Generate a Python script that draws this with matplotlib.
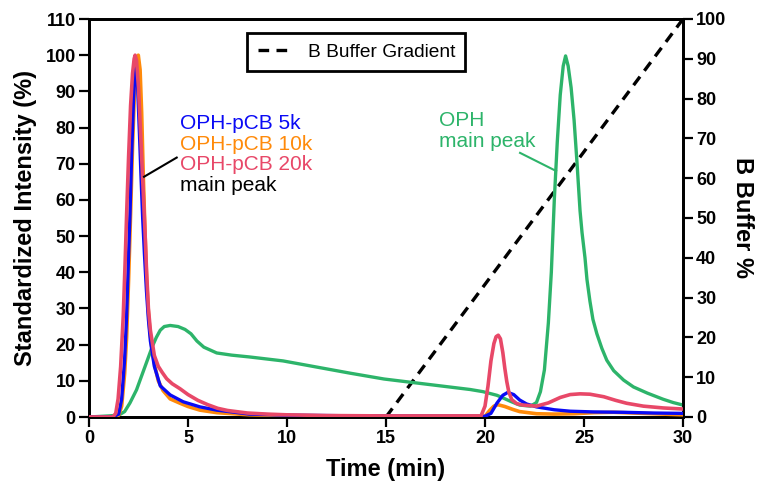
import matplotlib
matplotlib.use("Agg")
import matplotlib.pyplot as plt

plt.rcParams['font.family'] = ['Liberation Sans', 'DejaVu Sans']

# ---------------- data ----------------
t_5k = [0, 1.2, 1.5, 1.65, 1.8, 1.9, 2.0, 2.07, 2.15, 2.25, 2.32, 2.38, 2.45, 2.55, 2.63, 2.71,
        2.8, 2.9, 3.0, 3.1, 3.3, 3.6, 4.1, 4.76, 5.6, 6.45, 8.1, 10, 14, 20, 20.3, 20.6, 20.9,
        21.15, 21.45, 21.75, 22.1, 22.6, 23.5, 24.3, 25.5, 27, 28.5, 30]
v_5k = [0, 0, 0.8, 5, 16, 28, 45, 56, 72, 88, 95, 97, 92, 78, 66, 55,
        45, 35, 27, 21, 14, 8.6, 6.1, 4.2, 2.8, 1.9, 0.8, 0.5, 0.3, 0.2, 1, 3.8, 6,
        6.8, 6.2, 4.7, 3.6, 2.8, 2.0, 1.6, 1.4, 1.3, 1.1, 1.0]

t_10k = [0, 1.2, 1.5, 1.65, 1.8, 1.9, 2.0, 2.1, 2.2, 2.3, 2.4, 2.49, 2.58, 2.66, 2.74, 2.83,
         2.91, 3.0, 3.08, 3.2, 3.33, 3.5, 3.74, 4.1, 4.6, 5.0, 5.6, 6.45, 8.1, 10, 15, 20, 20.25,
         20.45, 20.65, 21.0, 21.4, 21.75, 22.6, 23.5, 24.5, 25.5, 26.5, 27.5, 28.5, 30]
v_10k = [0, 0, 0.5, 3, 12, 22, 38, 56, 75, 90, 98, 100, 96, 84, 67, 51,
         38, 29, 23.5, 18, 14, 10, 7.3, 5.0, 3.8, 2.9, 1.9, 1.2, 0.6, 0.4, 0.2, 0.2, 1.9,
         3.0, 3.4, 2.9, 2.1, 1.5, 0.9, 0.8, 0.9, 1.2, 1.3, 1.1, 0.9, 0.6]

t_20k = [0, 1.2, 1.35, 1.47, 1.6, 1.73, 1.82, 1.9, 2.0, 2.1, 2.2, 2.28, 2.33, 2.4, 2.5, 2.6,
         2.7, 2.83, 2.91, 3.0, 3.1, 3.3, 3.5, 3.7, 3.92, 4.2, 4.6, 5.0, 5.5, 6.0, 6.5, 7.0, 8.0,
         9.0, 10, 12, 15, 18, 19.8, 20.0, 20.15, 20.3, 20.45, 20.56, 20.67, 20.78, 20.9, 21.0,
         21.1, 21.2, 21.35, 21.6, 21.9, 22.6, 23.2, 23.8, 24.3, 24.8, 25.3, 26.0, 26.6, 27.15,
         28.0, 29.0, 30]
v_20k = [0, 0, 1, 5, 14, 28, 42, 56, 72, 86, 95, 99, 100, 98.5, 91, 79,
         67, 51, 40, 30, 24, 17, 14, 12.3, 10.6, 9.2, 7.8, 6.2, 4.6, 3.4, 2.4, 1.8, 1.1,
         0.8, 0.6, 0.4, 0.3, 0.3, 0.3, 3.0, 8.5, 15.5, 20.3, 22.2, 22.6, 21.6, 17.8, 13.5,
         9.8, 7.0, 4.8, 3.7, 3.3, 3.0, 3.9, 5.4, 6.2, 6.4, 6.3, 5.6, 4.6, 3.8,
         3.0, 2.5, 2.2]

t_oph = [0, 1.0, 1.5, 1.8, 2.07, 2.4, 2.7, 3.0, 3.2, 3.4, 3.6, 3.8, 4.1, 4.5, 4.85, 5.15,
         5.45, 5.8, 6.45, 7.2, 8.1, 9.8, 11.5, 13.2, 14.9, 16.55, 18.2, 19.25, 19.9, 20.6, 20.9,
         21.3, 21.75, 22.3, 22.6, 22.8, 23.0, 23.2, 23.35, 23.5, 23.65, 23.8, 23.95, 24.07, 24.2,
         24.35, 24.5, 24.65, 24.8, 24.9, 25.05, 25.15, 25.3, 25.45, 25.65, 25.9, 26.15, 26.5,
         27.0, 27.5, 28.2, 29.0, 29.5, 30]
v_oph = [0, 0.3, 0.5, 1.5, 3.9, 7.5, 12, 16.5, 19.5, 22, 24, 25, 25.3, 25, 24.2, 23,
         21, 19.3, 17.7, 17.1, 16.6, 15.5, 13.8, 12.1, 10.5, 9.4, 8.3, 7.6, 7.0, 6.0, 5.3,
         4.3, 3.3, 3.0, 4.0, 7, 13, 26, 40, 60, 76, 89, 97, 99.8, 97,
         91, 82, 70, 57, 51, 44, 38, 32, 27, 23, 19, 15.7, 12.8,
         10.2, 8.3, 6.6, 4.9, 4.0, 3.3]

t_grad = [15, 30]
v_grad = [0, 100]

x_ticks = [0, 5, 10, 15, 20, 25, 30]
y_ticks_left = list(range(0, 111, 10))
y_ticks_right = list(range(0, 101, 10))

c_blue = '#0a0af5'
c_orange = '#ff8a0a'
c_red = '#e84868'
c_green = '#2db46a'

# ---------------- figure ----------------
fig = plt.figure(figsize=(7.57, 4.97), dpi=100)
ax = fig.add_axes([89 / 757, 1 - 417 / 497, 594 / 757, 398 / 497])
ax2 = ax.twinx()
ax.set_zorder(ax2.get_zorder() + 1)
ax.patch.set_visible(False)

ax.plot(t_oph, v_oph, color=c_green, lw=2.4, zorder=2)
ax.plot(t_10k, v_10k, color=c_orange, lw=2.6, zorder=3)
ax.plot(t_5k, v_5k, color=c_blue, lw=2.4, zorder=4)
ax.plot(t_20k, v_20k, color=c_red, lw=2.6, zorder=5)

ax2.plot(t_grad, v_grad, color='black', lw=2.4, ls=(0, (3.2, 2.2)),
         label='B Buffer Gradient')

ax.set_xlim(0, 30)
ax.set_ylim(0, 110)
ax2.set_ylim(0, 100)
ax.set_xticks(x_ticks)
ax.set_yticks(y_ticks_left)
ax2.set_yticks(y_ticks_right)

for a in (ax, ax2):
    for s in a.spines.values():
        s.set_linewidth(2)
    a.tick_params(direction='out', length=7, width=1.6, labelsize=13, pad=2.5)
    for lab in a.get_xticklabels() + a.get_yticklabels():
        lab.set_fontweight('bold')

ax.set_xlabel('Time (min)', fontsize=17, fontweight='bold', labelpad=8)
ax.set_ylabel('Standardized Intensity (%)', fontsize=17, fontweight='bold', labelpad=6)
ax2.set_ylabel('B Buffer %', fontsize=17, fontweight='bold', rotation=270, labelpad=20)

leg = ax2.legend(loc='upper center', bbox_to_anchor=(0.45, 0.965), fontsize=13.8,
                 fancybox=False, framealpha=1, edgecolor='black', handlelength=1.7,
                 borderpad=0.55, handletextpad=0.9, borderaxespad=0)
leg.get_frame().set_linewidth(2)

# annotations
fs = 15
ax.text(4.6, 79.5, 'OPH-pCB 5k', color=c_blue, fontsize=fs)
ax.text(4.6, 73.8, 'OPH-pCB 10k', color=c_orange, fontsize=fs)
ax.text(4.6, 68.2, 'OPH-pCB 20k', color=c_red, fontsize=fs)
ax.text(4.6, 62.6, 'main peak', color='black', fontsize=fs)
ax.plot([4.43, 2.78], [71.7, 66.4], color='black', lw=1.5, zorder=6)

ax.text(17.7, 80.4, 'OPH', color=c_green, fontsize=fs)
ax.text(17.7, 74.7, 'main peak', color=c_green, fontsize=fs)
ax.plot([21.77, 23.59], [73.0, 68.0], color=c_green, lw=1.5)

fig.savefig('out.png', dpi=100)
